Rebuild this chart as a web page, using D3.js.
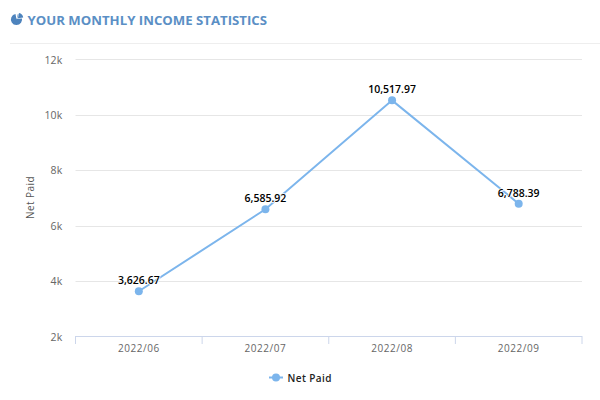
<!DOCTYPE html>
<html><head><meta charset="utf-8">
<script src="https://cdn.jsdelivr.net/npm/d3@7/dist/d3.min.js"></script>
<style>html,body{margin:0;padding:0;background:#fff}svg{display:block}text{font-family:"Open Sans",sans-serif}</style>
</head><body><svg id="c" width="600" height="400"></svg>
<script>
const categories = ["2022/06","2022/07","2022/08","2022/09"];
const netPaid = [3626.67,6585.92,10517.97,6788.39];
const valueLabels = ["3,626.67","6,585.92","10,517.97","6,788.39"];
const yTicks = [2000,4000,6000,8000,10000,12000];
const seriesName = "Net Paid";
const titleText = "YOUR MONTHLY INCOME STATISTICS";

const svg = d3.select("#c");
const L=75.5,R=582,T=59.3,B=336.3;
const x = d3.scaleBand().domain(categories).range([L,R]);
const y = d3.scaleLinear().domain([2000,12000]).range([B,T]);

// header
const pie = d3.arc();
const icon = svg.append("g").attr("transform","translate(16.5,19.5)").attr("fill","#4d83bd");
icon.append("path").attr("d",pie({innerRadius:0,outerRadius:5.6,startAngle:0.25,endAngle:6.1}));
icon.append("path").attr("d",pie({innerRadius:0,outerRadius:5.4,startAngle:0.35,endAngle:1.5})).attr("transform","translate(0.8,-1)").attr("fill","#fff").attr("stroke","#fff").attr("stroke-width",0.6);
icon.append("path").attr("d",pie({innerRadius:0,outerRadius:5.4,startAngle:0.2,endAngle:1.4})).attr("transform","translate(1.4,-1.2)");
svg.append("text").attr("x",27.5).attr("y",25).attr("font-size",13.2).attr("font-weight",700).attr("fill","#5b8fc5").text(titleText);
svg.append("line").attr("x1",10).attr("x2",600).attr("y1",43.5).attr("y2",43.5).attr("stroke","#eeeeee");

// grid and y axis labels
const yAxis = d3.axisLeft(y).tickValues(yTicks).tickSize(0).tickPadding(0).tickFormat(d=>(d/1000)+"k");
const gy = svg.append("g").attr("transform",`translate(${L},0)`).call(yAxis);
gy.select(".domain").remove();
gy.selectAll("text").attr("x",-13).attr("dy","0.36em").attr("font-size",10.5).attr("font-family",'"Open Sans",sans-serif').attr("fill","#666").style("letter-spacing","0.2px");
svg.append("g").selectAll("line").data(yTicks.filter(d=>d>2000)).join("line")
  .attr("x1",L).attr("x2",R).attr("y1",d=>Math.round(y(d))+0.5).attr("y2",d=>Math.round(y(d))+0.5).attr("stroke","#e6e6e6");
svg.append("text").attr("transform",`translate(34,197.5) rotate(-90)`).attr("text-anchor","middle").attr("font-size",10).attr("fill","#555").style("letter-spacing","0.45px").text(seriesName);

// x axis
const xAxis = d3.axisBottom(x).tickSize(0).tickPadding(0);
const gx = svg.append("g").attr("transform",`translate(0,336)`).call(xAxis);
gx.select(".domain").remove();
gx.selectAll("text").attr("y",16).attr("dy","0").attr("font-size",10).attr("font-family",'"Open Sans",sans-serif').attr("fill","#666").style("letter-spacing","0.55px");
svg.append("line").attr("x1",L).attr("x2",R).attr("y1",336.5).attr("y2",336.5).attr("stroke","#ccd6eb");
const edges = categories.map(c=>x(c)).concat([R]);
svg.append("g").selectAll("line").data(edges).join("line")
  .attr("x1",d=>d).attr("x2",d=>d).attr("y1",336).attr("y2",344).attr("stroke","#ccd6eb");

// series
const cx = (c)=>x(c)+x.bandwidth()/2;
const color="#7cb5ec";
svg.append("path").attr("fill","none").attr("stroke",color).attr("stroke-width",2)
  .attr("d",d3.line().x((d,i)=>cx(categories[i])).y(d=>y(d))(netPaid));
svg.append("g").selectAll("circle").data(netPaid).join("circle")
  .attr("cx",(d,i)=>cx(categories[i])).attr("cy",d=>y(d)).attr("r",4).attr("fill",color);
svg.append("g").selectAll("text").data(netPaid).join("text")
  .attr("x",(d,i)=>cx(categories[i])).attr("y",d=>y(d)-7).attr("text-anchor","middle")
  .attr("font-size",10.5).attr("font-weight",600).attr("fill","#000")
  .attr("paint-order","stroke").attr("stroke","#fff").attr("stroke-width",1.5).attr("stroke-linejoin","round")
  .text((d,i)=>valueLabels[i]);

// legend
const lg = svg.append("g");
lg.append("line").attr("x1",269).attr("x2",283).attr("y1",377.5).attr("y2",377.5).attr("stroke",color).attr("stroke-width",2);
lg.append("circle").attr("cx",276).attr("cy",377.5).attr("r",4).attr("fill",color);
lg.append("text").attr("x",287.5).attr("y",381.5).attr("font-size",10).attr("font-weight",600).attr("fill","#222").style("letter-spacing","0.4px").text(seriesName);
</script></body></html>
